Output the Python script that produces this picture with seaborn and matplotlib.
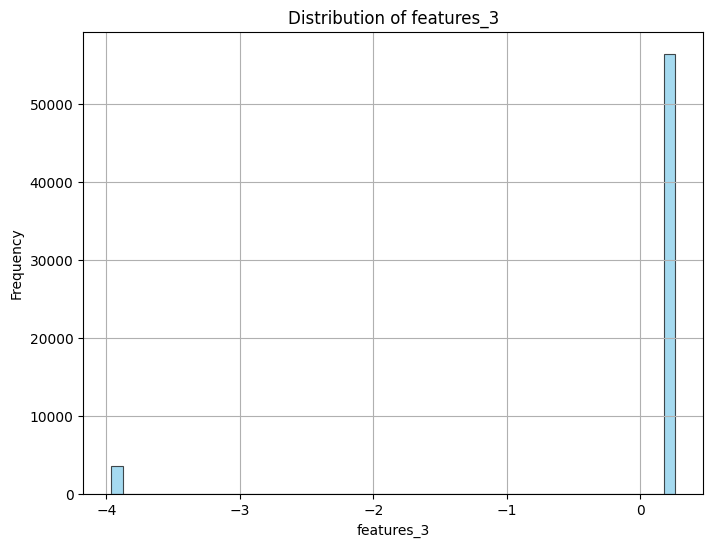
"""Histogram of features_3."""

import matplotlib
matplotlib.use("Agg")
import matplotlib.pyplot as plt
import seaborn as sns

# Distinct values observed in the column and how often each appears.
feature_values = [-3.92, 0.215]
value_counts = [3500, 56400]
value_range = (-3.963, 0.259)

fig, ax = plt.subplots(figsize=(8, 6))
sns.histplot(x=feature_values, weights=value_counts, bins=50, binrange=value_range,
             color="skyblue", edgecolor=(0, 0, 0, 0.7), alpha=0.75, ax=ax)
ax.set_title("Distribution of features_3")
ax.set_xlabel("features_3")
ax.set_ylabel("Frequency")
ax.grid(True)

fig.savefig("out.png", dpi=100, bbox_inches="tight")
plt.close(fig)
